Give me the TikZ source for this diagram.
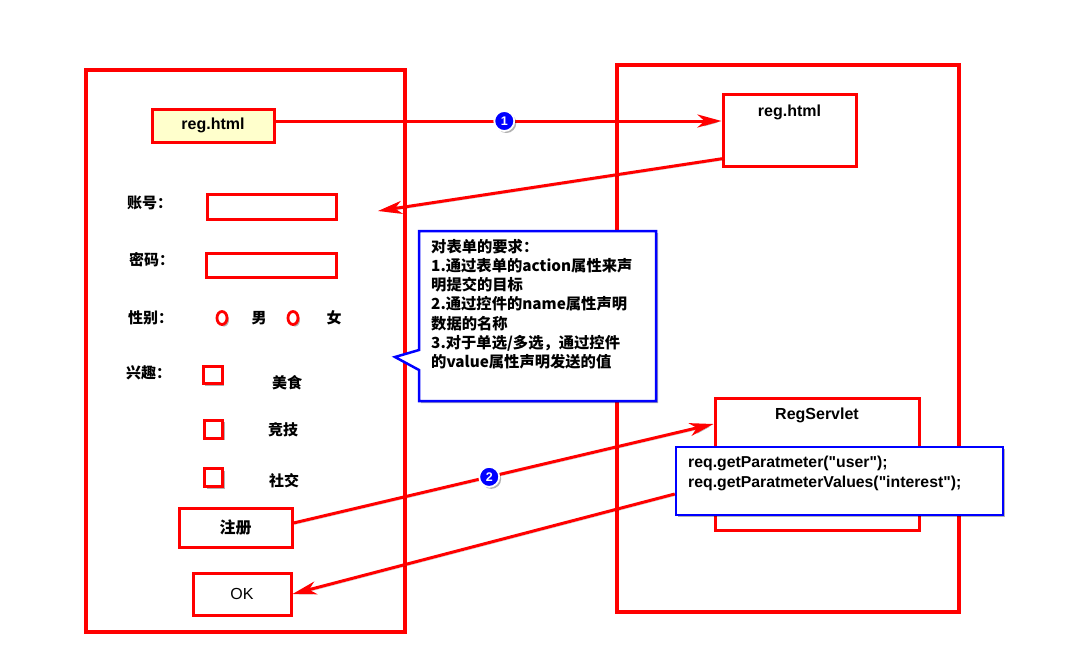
\documentclass[tikz,border=0pt]{standalone}
\usepackage{fontspec}
\setmainfont{Liberation Sans}
\newfontfamily\codefont[Ligatures=TeXOff]{Liberation Sans}
\newfontfamily\cjk{Noto Sans CJK SC}
\usetikzlibrary{arrows.meta,shadows,shapes.geometric}
\definecolor{paleyellow}{HTML}{FFFFCC}
\tikzset{
  shd/.style={drop shadow={shadow xshift=2pt,shadow yshift=-2pt,opacity=0.3,fill=black}},
  bigbox/.style={draw=red, line width=3.5pt, fill=white, shd, inner sep=0pt},
  rbox/.style={draw=red, line width=3pt, fill=white, shd, inner sep=0pt},
  bbox/.style={draw=blue, line width=2.5pt, fill=white, shd, inner sep=0pt},
  lbl/.style={font=\cjk\bfseries\fontsize{15}{17}\selectfont, anchor=west, inner sep=0pt},
  opt/.style={font=\cjk\bfseries\fontsize{15}{17}\selectfont, inner sep=0pt},
  btxt/.style={font=\bfseries\fontsize{16}{18}\selectfont, inner sep=0pt},
  radio/.style={ellipse, draw=red, line width=2.8pt, minimum width=10pt, minimum height=13pt, inner sep=0pt, shd, fill=white},
  chk/.style={draw=red, line width=3pt, fill=white, inner sep=0pt, shd},
  conn/.style={draw=red, line width=3pt, -{Stealth[length=24pt,width=13pt,inset=7pt]},
    preaction={draw=black, opacity=0.2, transform canvas={xshift=1.5pt,yshift=-1.5pt}}},
  badge/.style={circle, fill=blue, draw=white, line width=1.8pt, text=white,
    font=\bfseries\fontsize{12.5}{12.5}\selectfont, inner sep=0pt, minimum size=20pt, shd},
}
\begin{document}
\begin{tikzpicture}[x=1pt,y=-1pt]
\useasboundingbox (0,0) rectangle (1071,651);
\fill[white] (0,0) rectangle (1071,651);

% big frames
\node[bigbox, minimum width=319pt, minimum height=562pt] (left) at (245.5,351) {};
\node[bigbox, minimum width=342pt, minimum height=547pt] (right) at (788,338.5) {};

% left side: form
\node[rbox, fill=paleyellow, minimum width=122pt, minimum height=33pt, font=\bfseries\fontsize{16}{18}\selectfont] (reg1) at (213,125.5) {reg.html};

\node[lbl] (l1) at (127,203) {账号：};
\node[rbox, minimum width=129pt, minimum height=25pt] (f1) at (271.5,206.5) {};
\node[lbl] (l2) at (129,260) {密码：};
\node[rbox, minimum width=130pt, minimum height=24pt] (f2) at (271,265) {};
\node[lbl] (l3) at (128,318) {性别：};
\node[radio] (r1) at (222,318) {};
\node[opt] (m) at (259,318) {男};
\node[radio] (r2) at (293,318) {};
\node[opt] (w) at (334,318) {女};
\node[lbl] (l4) at (126,373) {兴趣：};
\node[chk, minimum width=19pt, minimum height=17pt] (c1) at (212.5,375) {};
\node[opt] (t1) at (287,383) {美食};
\node[chk, minimum width=18pt, minimum height=18pt] (c2) at (213.5,429) {};
\node[opt] (t2) at (283,430) {竞技};
\node[chk, minimum width=18pt, minimum height=18pt] (c3) at (213.5,477.5) {};
\node[opt] (t3) at (284,481) {社交};
\node[rbox, minimum width=113pt, minimum height=39pt, font=\cjk\bfseries\fontsize{16}{18}\selectfont] (regbtn) at (235.5,527.5) {注册};
\node[rbox, minimum width=98pt, minimum height=42pt, font=\fontsize{16}{18}\selectfont] (ok) at (242,594) {OK};

% right side
\node[rbox, minimum width=133pt, minimum height=72pt] (reg2) at (789.5,130) {};
\node[btxt] (reg2t) at (789.5,112) {reg.html};
\node[rbox, minimum width=204pt, minimum height=132pt] (servlet) at (817,464) {};
\node[btxt] (servt) at (817,415) {RegServlet};
\node[bbox, minimum width=327pt, minimum height=68pt] (req) at (839.5,481) {};
\node[btxt, anchor=west, align=left, font=\codefont\bfseries\fontsize{15.8}{20}\selectfont] (reqt) at (688,473)
  {req.getParatmeter("user");\\req.getParatmeterValues("interest");};

% callout
\path[draw=blue, line width=2.5pt, fill=white, line join=miter, shd]
  (419,231) -- (656,231) -- (656,401) -- (419,401) -- (419,370) -- (395,357) -- (419,350) -- cycle;
\node[anchor=north west, inner sep=0pt, text width=226pt, align=left,
      font=\cjk\bfseries\fontsize{15.3}{19.2}\selectfont] (note) at (431,239)
  {对表单的要求：\\1.通过表单的action属性来声\\明提交的目标\\2.通过控件的name属性声明\\数据的名称\\3.对于单选/多选，通过控件\\的value属性声明发送的值};

% connectors
\coordinate (a1s) at ([yshift=4.5pt]reg1.east);
\draw[conn] (a1s) -- (a1s -| reg2.west) node[badge, pos=0.513] (b1) {1};
\coordinate (tip2) at (378,211);
\draw[conn] ([shift={(2pt,9pt)}]reg2.south west) -- (tip2);
\draw[conn] ([yshift=4.5pt]regbtn.east) -- ([yshift=40pt]servlet.west) node[badge, pos=0.466] (b2) {2};
\draw[conn] ([yshift=-13pt]req.west) -- (ok.east);
\end{tikzpicture}
\end{document}
